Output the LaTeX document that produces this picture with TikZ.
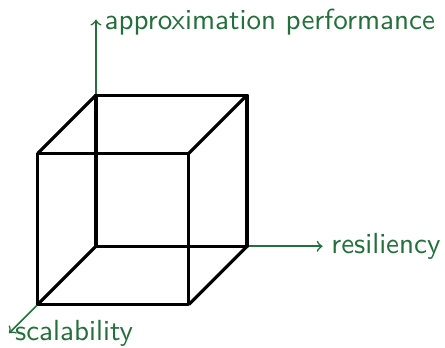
\documentclass[tikz,border=0pt,11pt]{standalone}
\usepackage{tikz}
\usetikzlibrary{positioning, arrows}
\definecolor{axisgreen}{RGB}{35,112,60}

\begin{document}
\begin{tikzpicture}[font=\sffamily,
  edge/.style={line width=1.2pt, line join=round},
  axis/.style={->, semithick, axisgreen},
  axislabel/.style={text=axisgreen, inner sep=3pt}]
\useasboundingbox (-1.27,-1.34) rectangle (4.62,3.26);

% Axes
\coordinate (O) at (0,0);
\coordinate (up) at (0,3);
\coordinate (rt) at (3,0);
\coordinate (dn) at (-1.15,-1.15);
\draw[axis] (O) -- (up) node[axislabel, right, yshift=-1pt] (perf) {approximation performance};
\draw[axis] (O) -- (rt) node[axislabel, right] (res) {resiliency};
\draw[axis] (O) -- (dn) node[axislabel, right, xshift=-1pt] (sca) {scalability};

% Back face
\draw[edge] (0,0) rectangle (2,2);
% Front face
\draw[edge] (-0.77,-0.77) rectangle (1.23,1.23);

% Connecting edges
\foreach \x/\y in {0/0,2/0,0/2,2/2}
    \draw[edge] (\x,\y) -- ++(-0.77,-0.77);
\end{tikzpicture}
\end{document}
